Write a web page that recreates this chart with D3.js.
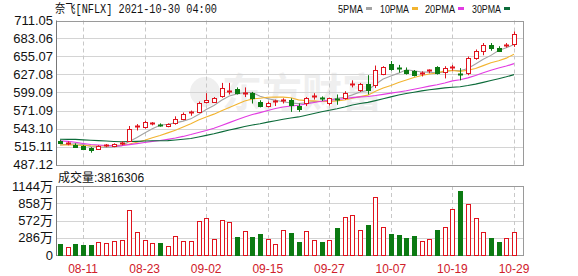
<!DOCTYPE html>
<html>
<head>
<meta charset="utf-8">
<script src="https://cdn.jsdelivr.net/npm/d3@7"></script>
<style>
  html, body { margin: 0; padding: 0; background: #fff; }
  svg { display: block; }
</style>
</head>
<body>
<div id="chart"></div>
<script>
// trading days shown
const dates = ["08-06","08-09","08-10","08-11","08-12","08-13","08-16","08-17","08-18","08-19",
  "08-20","08-23","08-24","08-25","08-26","08-27","08-30","08-31","09-01","09-02",
  "09-03","09-07","09-08","09-09","09-10","09-13","09-14","09-15","09-16","09-17",
  "09-20","09-21","09-22","09-23","09-24","09-27","09-28","09-29","09-30","10-01",
  "10-04","10-05","10-06","10-07","10-08","10-11","10-12","10-13","10-14","10-15",
  "10-18","10-19","10-20","10-21","10-22","10-25","10-26","10-27","10-28","10-29"];

const open  = [524,519,518,515.5,513,511,516.5,516,520,524, 545,546,550.5,549,547,551,558,566.5,569,584,
  585,594,600,605,598,598,585,578,584,586.5, 587,578,582,593,591,583,589,590,611,603,
  613,610,628,644,637,634,632,629,632,638, 631,637,628,629,652,664,673,669,671.5,674];
const high  = [525,523,520,517,514,517,519,520,523,547, 550,555,553,551,551,562,568,571,585,598,
  592,614,614,607,607,600,587,585,588,590, 590,582,592,598,593,591,596,601,618,614,
  626,641,640,648,642,638,634,632,635,640, 640,642,637,655,666,676,676,671,676,694];
const low   = [519,517,514,510,505.5,510,514,514,517,522, 540,543,548,546,545,549,556,563,568,582,
  583,591,596,596,592,582,576,576,578,582, 569,569,578,588,586,579,580,588,607,600,
  596,606,626,633,630,627,624,624,629,627, 621,633,618,626,650,657,664,662,669,670];
const close = [520.5,520,515,511.5,509,516,517.5,518.5,521,542, 546.5,552.5,551.5,548,549.5,558,566,569,582,588,
  590,606,602,598,599,590,578,583,585.5,587.5, 580,573,590,594,590,590,587,598,612,613,
  603,634,639,635,635,629,626,630,633.5,629, 637,638.5,626,652,664,673,669,664,673,690];
// volume in 万
const volume = [182,133,182,166,166,216,205,232,249,747, 381,249,205,205,149,315,232,232,564,608,
  260,581,553,304,398,304,348,265,182,415, 370,221,398,249,221,249,453,630,663,415,
  498,962,464,343,326,277,310,232,260,415, 459,758,1062,841,608,376,277,216,277,381];
// closes before the first visible day, for the moving averages
const prevCloses = [527,518,533,528,533,534,541,536,531,536,537,541,548,543,530,532,531,514,512,515,
  516,519,519,514,518,515,511,517,525];

const priceTicks = ["711.05","683.06","655.07","627.08","599.09","571.09","543.10","515.11","487.12"];
const volTicks = [1144, 858, 572, 286, 0];
const xTickDates = ["08-11","08-23","09-02","09-15","09-27","10-07","10-19","10-29"];
const maPeriods = [5, 10, 20, 30];
const maNames = ["5PMA","10PMA","20PMA","30PMA"];

const W = 578, H = 276;
const left = 56, right = 523;
const pTop = 20.5, pBot = 164.5, vTop = 186, vBot = 255;
const RED = "#e0141e", GREEN = "#0b7a12";
const maColors = ["#a3a3a3", "#f2b430", "#e23be2", "#0c6b3a"];

const svg = d3.select("#chart").append("svg")
  .attr("width", W).attr("height", H)
  .style("font-family", "'Liberation Sans', Arial, 'Noto Sans CJK SC', sans-serif");

const x = d3.scalePoint().domain(dates).range([60, 514]);
const y = d3.scaleLinear().domain([+priceTicks[8], +priceTicks[0]]).range([pBot, pTop]);
const yv = d3.scaleLinear().domain([0, 1144]).range([vBot, vTop]);
const cx = d => Math.round(x(d));

// watermark
svg.append("text").attr("x", 222).attr("y", 107)
  .attr("font-size", 40).attr("font-weight", "bold")
  .attr("font-family", "'Noto Sans CJK SC', sans-serif")
  .attr("fill", "#efefef").text("东方财富");
svg.append("circle").attr("cx", 205).attr("cy", 92).attr("r", 15).attr("fill", "#efefef");

// panels
function panel(top, bot, ticksY) {
  const g = svg.append("g");
  g.selectAll("line.h").data(ticksY).enter().append("line")
    .attr("x1", left).attr("x2", right)
    .attr("y1", d => Math.round(d) + 0.5).attr("y2", d => Math.round(d) + 0.5)
    .attr("stroke", "#d4d4d4");
  g.selectAll("line.v").data(xTickDates).enter().append("line")
    .attr("x1", d => cx(d) + 0.5).attr("x2", d => cx(d) + 0.5)
    .attr("y1", top).attr("y2", bot)
    .attr("stroke", "#c8c8c8").attr("stroke-dasharray", "4,3");
  g.append("rect")
    .attr("x", left + 0.5).attr("y", Math.round(top) + 0.5)
    .attr("width", right - left).attr("height", Math.round(bot) - Math.round(top))
    .attr("fill", "none").attr("stroke", "#9a9a9a");
  g.append("line").attr("x1", left + 0.5).attr("x2", left + 0.5)
    .attr("y1", top).attr("y2", bot + 1).attr("stroke", "#777");
  return g;
}
panel(pTop, pBot, priceTicks.map(t => y(+t)));
panel(vTop, vBot, volTicks.map(t => yv(t)));

// price axis labels
svg.selectAll("text.py").data(priceTicks).enter().append("text")
  .attr("x", 53).attr("y", d => y(+d) + 4.5)
  .attr("text-anchor", "end").attr("font-size", 13).attr("fill", "#111")
  .text(d => d);
svg.selectAll("text.vy").data(volTicks).enter().append("text")
  .attr("x", 53).attr("y", d => yv(d) + 4.5)
  .attr("text-anchor", "end").attr("font-size", 13).attr("fill", "#111")
  .text(d => d === 0 ? "0" : d + "万");
svg.selectAll("text.xt").data(xTickDates).enter().append("text")
  .attr("x", d => x(d)).attr("y", 273)
  .attr("text-anchor", "middle").attr("font-size", 12).attr("fill", "#d0202a")
  .text(d => d);

// moving averages
const allCloses = prevCloses.concat(close);
const k = prevCloses.length;
maPeriods.forEach((n, j) => {
  const ma = close.map((c, i) => d3.mean(allCloses.slice(k + i - n + 1, k + i + 1)));
  svg.append("path")
    .attr("d", d3.line().x((d, i) => x(dates[i])).y(d => y(d))(ma))
    .attr("fill", "none").attr("stroke", maColors[j]).attr("stroke-width", 1.1);
});

// candles
const candles = svg.append("g").selectAll("g").data(dates).enter().append("g");
candles.each(function(d, i) {
  const g = d3.select(this);
  const c = cx(d);
  const up = close[i] >= open[i];
  const col = up ? RED : GREEN;
  const yTop = Math.round(y(Math.max(open[i], close[i])));
  const yBot = Math.round(y(Math.min(open[i], close[i])));
  g.append("line").attr("x1", c + 0.5).attr("x2", c + 0.5)
    .attr("y1", y(high[i])).attr("y2", y(low[i])).attr("stroke", col);
  if (yBot - yTop < 2) {
    g.append("line").attr("x1", c - 2).attr("x2", c + 3)
      .attr("y1", yTop + 0.5).attr("y2", yTop + 0.5).attr("stroke", col).attr("stroke-width", 2);
  } else if (up) {
    g.append("rect").attr("x", c - 1.5).attr("y", yTop + 0.5)
      .attr("width", 4).attr("height", yBot - yTop)
      .attr("fill", "#fff").attr("stroke", col);
  } else {
    g.append("rect").attr("x", c - 2).attr("y", yTop)
      .attr("width", 5).attr("height", yBot - yTop + 1).attr("fill", col);
  }
});

// volume bars
svg.append("g").selectAll("rect").data(dates).enter().append("rect")
  .each(function(d, i) {
    const c = cx(d);
    const up = close[i] >= open[i];
    const top = Math.round(yv(volume[i]));
    const r = d3.select(this);
    if (up) {
      r.attr("x", c - 1.5).attr("y", top + 0.5).attr("width", 4).attr("height", vBot - top)
        .attr("fill", "#fff").attr("stroke", RED);
    } else {
      r.attr("x", c - 2).attr("y", top).attr("width", 5).attr("height", vBot - top + 1)
        .attr("fill", GREEN);
    }
  });

// titles
svg.append("text").attr("x", 55).attr("y", 13)
  .attr("font-size", 12).attr("fill", "#111")
  .attr("font-family", "'Liberation Mono', 'Noto Sans CJK SC', monospace")
  .attr("textLength", 162).attr("lengthAdjust", "spacingAndGlyphs")
  .text("奈飞[NFLX] 2021-10-30 04:00");
svg.append("text").attr("x", 58).attr("y", 182)
  .attr("font-size", 12).attr("fill", "#111")
  .text("成交量:" + 3816306);

// legend
const legX = [338, 380, 425, 472];
const legW = [25, 29, 30, 29];
maNames.forEach((name, j) => {
  svg.append("text").attr("x", legX[j]).attr("y", 12.5)
    .attr("font-size", 11).attr("fill", "#111")
    .attr("textLength", legW[j]).attr("lengthAdjust", "spacingAndGlyphs")
    .text(name);
  svg.append("rect").attr("x", legX[j] + legW[j] + 3).attr("y", 7)
    .attr("width", 6).attr("height", 3).attr("fill", maColors[j]);
});
</script>
</body>
</html>
